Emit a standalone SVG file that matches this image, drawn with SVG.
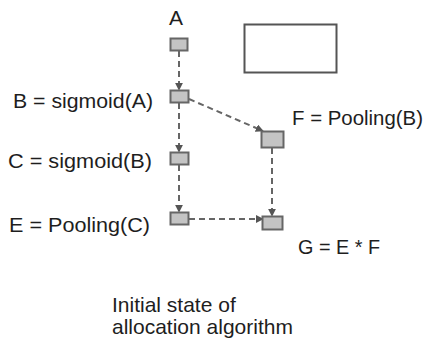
<svg xmlns="http://www.w3.org/2000/svg" width="431" height="344" viewBox="0 0 431 344">
  <style>
    .lbl { font-family: "Liberation Sans", Arial, sans-serif; font-size: 21px; fill: #1e1e1e; }
    .box { fill: #c4c4c4; stroke: #666; stroke-width: 2; }
    .edge { fill: none; stroke: #666; stroke-width: 2; stroke-dasharray: 6 4; marker-end: url(#arr); }
  </style>
  <defs>
    <marker id="arr" viewBox="0 0 10 10" refX="9" refY="5" markerWidth="8" markerHeight="8" markerUnits="userSpaceOnUse" orient="auto">
      <path d="M0,0 L10,5 L0,10 z" fill="#555"/>
    </marker>
  </defs>
  <rect width="431" height="344" fill="#fff"/>

  <g id="connectors">
    <line class="edge" x1="179" y1="51" x2="179" y2="90"/>
    <line class="edge" x1="179" y1="103" x2="179" y2="152"/>
    <line class="edge" x1="179" y1="165" x2="179" y2="212"/>
    <line class="edge" x1="189" y1="99" x2="263" y2="131"/>
    <line class="edge" x1="272" y1="148" x2="272" y2="216"/>
    <line class="edge" x1="189" y1="219" x2="263" y2="219"/>
  </g>

  <g id="panel">
    <rect x="244.5" y="24.5" width="92" height="48" fill="#fff" stroke="#555" stroke-width="2"/>
  </g>

  <g id="nodeA">
    <text class="lbl" x="176" y="25" font-size="18" text-anchor="middle">A</text>
    <rect class="box" x="170.5" y="38.5" width="17" height="12"/>
  </g>
  <g id="nodeB">
    <text class="lbl" x="13" y="108" textLength="140" lengthAdjust="spacingAndGlyphs">B = sigmoid(A)</text>
    <rect class="box" x="170.5" y="90.5" width="18" height="12"/>
  </g>
  <g id="nodeC">
    <text class="lbl" x="8" y="168" textLength="144" lengthAdjust="spacingAndGlyphs">C = sigmoid(B)</text>
    <rect class="box" x="170.5" y="152.5" width="18" height="12"/>
  </g>
  <g id="nodeE">
    <text class="lbl" x="9" y="232" textLength="141" lengthAdjust="spacingAndGlyphs">E = Pooling(C)</text>
    <rect class="box" x="170.5" y="212.5" width="18" height="12"/>
  </g>
  <g id="nodeF">
    <text class="lbl" x="292" y="125" textLength="131" lengthAdjust="spacingAndGlyphs">F = Pooling(B)</text>
    <rect class="box" x="261.5" y="131.5" width="22" height="16"/>
  </g>
  <g id="nodeG">
    <text class="lbl" x="298" y="254" font-size="20" textLength="82" lengthAdjust="spacingAndGlyphs">G = E * F</text>
    <rect class="box" x="262.5" y="216.5" width="20" height="13"/>
  </g>

  <g id="caption">
    <text class="lbl" x="112" y="312">Initial state of</text>
    <text class="lbl" x="112" y="334">allocation algorithm</text>
  </g>
</svg>
